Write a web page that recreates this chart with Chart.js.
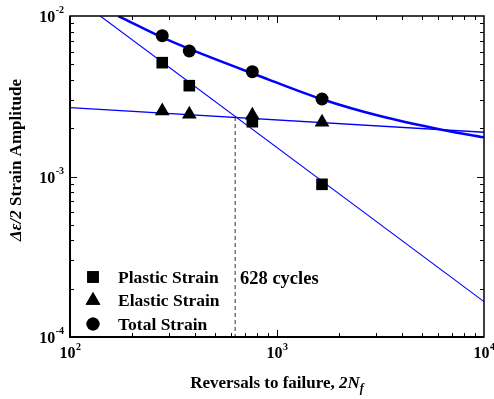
<!DOCTYPE html>
<html>
<head>
<meta charset="utf-8">
<script src="https://cdn.jsdelivr.net/npm/chart.js@4/dist/chart.umd.min.js"></script>
<style>
  html,body{margin:0;padding:0;background:#fff;}
  #wrap{width:494px;height:399px;}
</style>
</head>
<body>
<div id="wrap"><canvas id="grafico" width="494" height="399"></canvas></div>
<script>
// DATOS
const reversals=[279, 377, 760, 1650];
const plasticStrain=[0.00512, 0.00368, 0.002195, 0.000894];
const elasticStrain=[0.00256, 0.00244, 0.00241, 0.00218];
const totalStrain=[0.00754, 0.00605, 0.00450, 0.00304];

const plasticFitX=[140, 10000];
const plasticFitY=[0.01, 0.000166];
const elasticFitX=[100, 10000];
const elasticFitY=[0.002684, 0.001886];
const totalFitX=[171, 297, 925, 1650, 3146, 6338, 10000];
const totalFitY=[0.01, 0.00709, 0.00399, 0.00303, 0.00238, 0.00195, 0.001754];

const transitionLife=628;
const transitionStrain=0.00235;

const xDecades=[2, 3, 4];
const yDecades=[-4, -3, -2];
const legendLabels=['Plastic Strain', 'Elastic Strain', 'Total Strain'];
const annotationText='628 cycles';

const SERIF='"Liberation Serif", "Times New Roman", serif';

function pares(xs, ys){
    return xs.map((x,i)=>({x:x, y:ys[i]}));
}

// dibuja ticks hacia adentro, marco, etiquetas, titulos y leyenda
const decoracion={
    id:'decoracion',
    afterDraw(chart){
        const ctx=chart.ctx;
        const a=chart.chartArea;
        const sx=chart.scales.x, sy=chart.scales.y;
        ctx.save();
        ctx.strokeStyle='#000';

        // ticks
        ctx.lineWidth=1;
        for(let k=xDecades[0]; k<xDecades[xDecades.length-1]; k++){
            for(let m=1;m<=9;m++){
                const px=Math.round(sx.getPixelForValue(m*Math.pow(10,k)))+0.5;
                const len=(m==1)?7:4;
                ctx.beginPath();
                ctx.moveTo(px,a.bottom); ctx.lineTo(px,a.bottom-len);
                ctx.moveTo(px,a.top); ctx.lineTo(px,a.top+len);
                ctx.stroke();
            }
        }
        for(let k=yDecades[0]; k<yDecades[yDecades.length-1]; k++){
            for(let m=1;m<=9;m++){
                const py=Math.round(sy.getPixelForValue(m*Math.pow(10,k)))+0.5;
                const len=(m==1)?7:4;
                ctx.beginPath();
                ctx.moveTo(a.left,py); ctx.lineTo(a.left+len,py);
                ctx.moveTo(a.right,py); ctx.lineTo(a.right-len,py);
                ctx.stroke();
            }
        }

        // marco
        ctx.lineWidth=1.5;
        ctx.strokeRect(a.left,a.top,a.right-a.left,a.bottom-a.top);
        ctx.lineWidth=2;
        ctx.beginPath();
        ctx.moveTo(a.left,a.top); ctx.lineTo(a.left,a.bottom); ctx.lineTo(a.right,a.bottom);
        ctx.stroke();

        // etiquetas de ticks
        ctx.fillStyle='#000';
        ctx.textBaseline='alphabetic';
        xDecades.forEach(k=>{
            const px=sx.getPixelForValue(Math.pow(10,k));
            ctx.font='bold 16px '+SERIF;
            const wb=ctx.measureText('10').width;
            ctx.font='bold 10px '+SERIF;
            const we=ctx.measureText(String(k)).width;
            const x0=px-(wb+we)/2;
            ctx.font='bold 16px '+SERIF;
            ctx.textAlign='left';
            ctx.fillText('10',x0,a.bottom+21);
            ctx.font='bold 10px '+SERIF;
            ctx.fillText(String(k),x0+wb+0.5,a.bottom+13);
        });
        yDecades.forEach(k=>{
            const py=sy.getPixelForValue(Math.pow(10,k));
            const exp='-'+Math.abs(k);
            ctx.font='bold 10px '+SERIF;
            const we=ctx.measureText(exp).width;
            const xe=a.left-6-we;
            ctx.textAlign='left';
            ctx.fillText(exp,xe,py-3);
            ctx.font='bold 16px '+SERIF;
            ctx.textAlign='right';
            ctx.fillText('10',xe-0.5,py+6);
        });

        // titulo eje x
        const px1='Reversals to failure, ', px2='2N', px3='f';
        ctx.font='bold 17px '+SERIF;
        const w1=ctx.measureText(px1).width;
        ctx.font='bold italic 17px '+SERIF;
        const w2=ctx.measureText(px2).width;
        ctx.font='bold italic 12px '+SERIF;
        const w3=ctx.measureText(px3).width;
        let xt=(a.left+a.right)/2-(w1+w2+w3)/2;
        const yt=388;
        ctx.textAlign='left';
        ctx.font='bold 17px '+SERIF;
        ctx.fillText(px1,xt,yt); xt+=w1;
        ctx.font='bold italic 17px '+SERIF;
        ctx.fillText(px2,xt,yt); xt+=w2;
        ctx.font='bold italic 12px '+SERIF;
        ctx.fillText(px3,xt,yt+4);

        // titulo eje y
        const py1='\u0394\u03b5/2', py2=' Strain Amplitude';
        ctx.font='bold italic 17px '+SERIF;
        const v1=ctx.measureText(py1).width;
        ctx.font='bold 17px '+SERIF;
        const v2=ctx.measureText(py2).width;
        ctx.save();
        ctx.translate(21,160);
        ctx.rotate(-Math.PI/2);
        let xv=-(v1+v2)/2;
        ctx.font='bold italic 17px '+SERIF;
        ctx.fillText(py1,xv,0); xv+=v1;
        ctx.font='bold 17px '+SERIF;
        ctx.fillText(py2,xv,0);
        ctx.restore();

        // leyenda
        const estilos=['rect','triangle','circle'];
        const radios=[8.2,8.5,6.5];
        ctx.font='bold 17.5px '+SERIF;
        ctx.textAlign='left';
        ctx.textBaseline='middle';
        legendLabels.forEach((lab,i)=>{
            const yl=277+i*23.5;
            Chart.helpers.drawPoint(ctx,{pointStyle:estilos[i],radius:radios[i],rotation:0,borderWidth:0},93,yl);
            ctx.fillStyle='#000';
            ctx.fill();
            ctx.fillText(lab,118,yl+1);
        });

        // anotacion
        ctx.font='bold 18.5px '+SERIF;
        ctx.fillText(annotationText,240,279);

        ctx.restore();
    }
};

const puntoComun={showLine:false, backgroundColor:'#000', borderColor:'#000', borderWidth:0};
const lineaComun={pointRadius:0, pointHoverRadius:0, fill:false, borderColor:'#0000ff'};

const canvas=document.querySelector('#grafico');
const grafico=new Chart(canvas,{
    type:'line',
    data:{
        datasets:[
            Object.assign({label:legendLabels[0], data:pares(reversals,plasticStrain), pointStyle:'rect', pointRadius:8.2},puntoComun),
            Object.assign({label:legendLabels[1], data:pares(reversals,elasticStrain), pointStyle:'triangle', pointRadius:8.5},puntoComun),
            Object.assign({label:legendLabels[2], data:pares(reversals,totalStrain), pointStyle:'circle', pointRadius:6.5},puntoComun),
            Object.assign({label:'plastic fit', data:pares(plasticFitX,plasticFitY), borderWidth:1.1},lineaComun),
            Object.assign({label:'elastic fit', data:pares(elasticFitX,elasticFitY), borderWidth:1.3},lineaComun),
            Object.assign({label:'total fit', data:pares(totalFitX,totalFitY), borderWidth:2.5, cubicInterpolationMode:'monotone'},lineaComun),
            {label:'transition', data:[{x:transitionLife,y:transitionStrain},{x:transitionLife,y:1e-4}], borderColor:'#555', borderWidth:1.2, borderDash:[4,3], pointRadius:0, fill:false}
        ]
    },
    options:{
        responsive:false,
        animation:false,
        devicePixelRatio:1,
        layout:{padding:{left:70, top:16, right:10, bottom:62}},
        plugins:{legend:{display:false}, tooltip:{enabled:false}},
        scales:{
            x:{type:'logarithmic', min:100, max:10000, display:false},
            y:{type:'logarithmic', min:1e-4, max:1e-2, display:false}
        }
    },
    plugins:[decoracion]
});
</script>
</body>
</html>
